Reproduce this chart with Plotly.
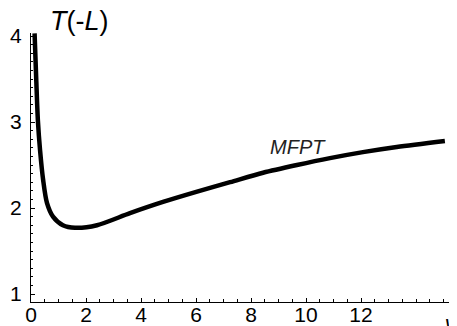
import plotly.graph_objects as go

# Data
nu = [0.13, 0.19, 0.25, 0.33, 0.44, 0.58, 0.80, 1.16, 1.60, 2.40, 3.60, 4.80,
      6.04, 7.24, 8.44, 9.67, 10.87, 12.07, 13.30, 15.05]
mfpt = [4.03, 3.50, 3.02, 2.67, 2.33, 2.06, 1.90, 1.80, 1.77, 1.80, 1.94, 2.07,
        2.19, 2.30, 2.41, 2.50, 2.58, 2.65, 2.71, 2.78]
x_tick_vals = [0, 2, 4, 6, 8, 10, 12]
x_tick_text = ["0", "2", "4", "6", "8", "10", "12"]
y_tick_vals = [1, 2, 3, 4]
y_tick_text = ["1", "2", "3", "4"]

W, H = 457, 326
OFF = 8  # default page body margin
# plot area in screen pixels
SL, SR, ST, SB = 31, 455, 33, 302
ML, MT = SL - OFF, ST - OFF
MR, MB = W - (SR - OFF), H - (SB - OFF)
PW, PH = SR - SL, SB - ST
XMAX = PW / 27.5
YMIN, YMAX = 0.907, 4.035

def px(sx):
    return (sx - SL) / PW

def py(sy):
    return (SB - sy) / PH

fig = go.Figure()
fig.add_trace(go.Scatter(
    x=nu, y=mfpt, mode="lines",
    line=dict(color="black", width=4.5, shape="spline", smoothing=0.8),
    showlegend=False, hoverinfo="skip", cliponaxis=True))

fig.add_annotation(x=9.71, y=2.71, xref="x", yref="y", text="<i>MFPT</i>",
                   showarrow=False, font=dict(size=20, color="#222222"),
                   xanchor="center", yanchor="middle")
fig.add_annotation(x=px(79), y=py(21), xref="paper", yref="paper",
                   text="<i>T</i>(-<i>L</i>)",
                   showarrow=False, font=dict(size=27, color="black"),
                   xanchor="center", yanchor="middle")
fig.add_annotation(x=px(450), y=py(322), xref="paper", yref="paper", text="<i>ν</i>",
                   showarrow=False, font=dict(size=21, color="black"),
                   xanchor="center", yanchor="middle")

axis_font = dict(family="Liberation Sans, Arial, sans-serif", size=21, color="black")
fig.update_layout(
    width=W, height=H,
    margin=dict(l=ML, r=MR, t=MT, b=MB, pad=0, autoexpand=False),
    paper_bgcolor="white", plot_bgcolor="white",
    font=dict(family="Liberation Sans, Arial, sans-serif", color="black"),
    xaxis=dict(range=[0, XMAX], showgrid=False, zeroline=False, automargin=False,
               showline=True, linecolor="black", linewidth=1,
               ticks="inside", ticklen=4, tickcolor="black", tickwidth=1,
               tickvals=x_tick_vals, ticktext=x_tick_text, tickfont=axis_font,
               ticklabelstandoff=-6,
               minor=dict(dtick=0.5, tick0=0, ticks="inside", ticklen=3,
                          tickcolor="black", showgrid=False)),
    yaxis=dict(range=[YMIN, YMAX], showgrid=False, zeroline=False, automargin=False,
               showline=True, linecolor="black", linewidth=1,
               ticks="inside", ticklen=4, tickcolor="black", tickwidth=1,
               tickvals=y_tick_vals, ticktext=y_tick_text, tickfont=axis_font,
               ticklabelstandoff=4,
               minor=dict(dtick=0.1, tick0=0, ticks="inside", ticklen=2,
                          tickcolor="black", showgrid=False)),
)
fig.write_html("out.html")
